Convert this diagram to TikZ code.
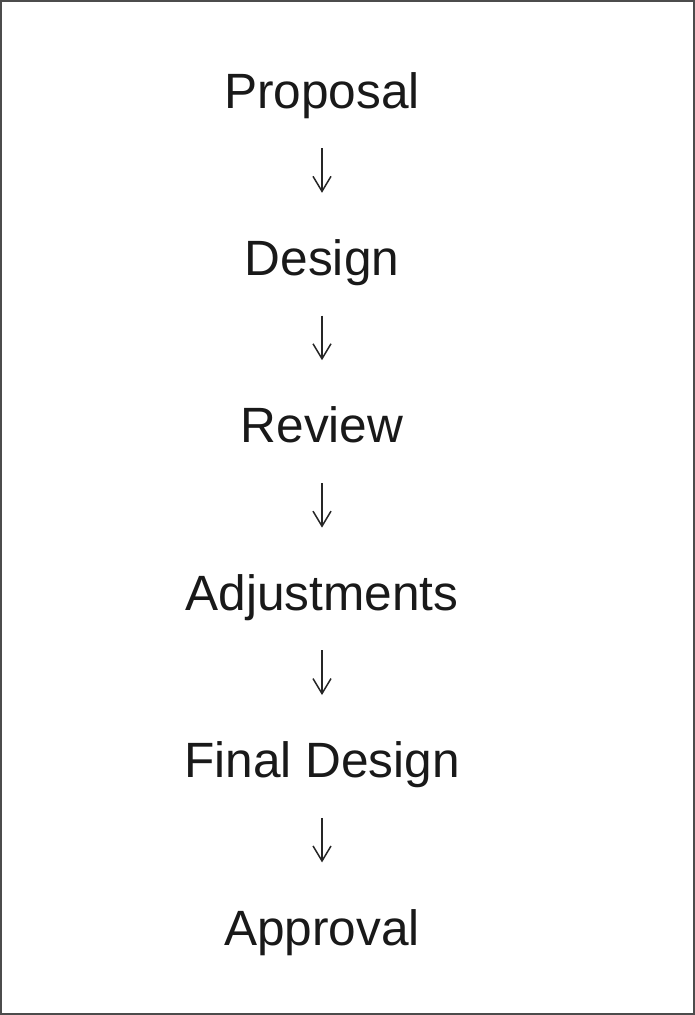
\documentclass[tikz,border=0pt]{standalone}
\usepackage{fontspec}
\setmainfont{Liberation Sans}
\usetikzlibrary{arrows.meta}
\begin{document}
\begin{tikzpicture}[x=1pt,y=-1pt,
  stage/.style={anchor=base, inner sep=0pt, text height=36pt, text depth=10pt,
    font=\fontsize{49.6}{50}\selectfont, text=black!90},
  flow/.style={draw=black!85, line width=1.5pt, -{Straight Barb[length=15pt,width=18pt,line width=1.5pt]},
    shorten <=30pt, shorten >=46.4pt}]
\useasboundingbox (0,0) rectangle (695,1015);
\draw[draw=black!70, line width=1.6pt] (0.8,0.8) rectangle (694.2,1014.2);
\node[stage] (p) at (322,108) {Proposal};
\node[stage] (d) at (322,275.4) {Design};
\node[stage] (r) at (322,442.8) {Review};
\node[stage] (a) at (322,610.2) {Adjustments};
\node[stage] (f) at (322,777.6) {Final Design};
\node[stage] (ap) at (322,945) {Approval};
\draw[flow] (p.south) -- (d.north);
\draw[flow] (d.south) -- (r.north);
\draw[flow] (r.south) -- (a.north);
\draw[flow] (a.south) -- (f.north);
\draw[flow] (f.south) -- (ap.north);
\end{tikzpicture}
\end{document}
